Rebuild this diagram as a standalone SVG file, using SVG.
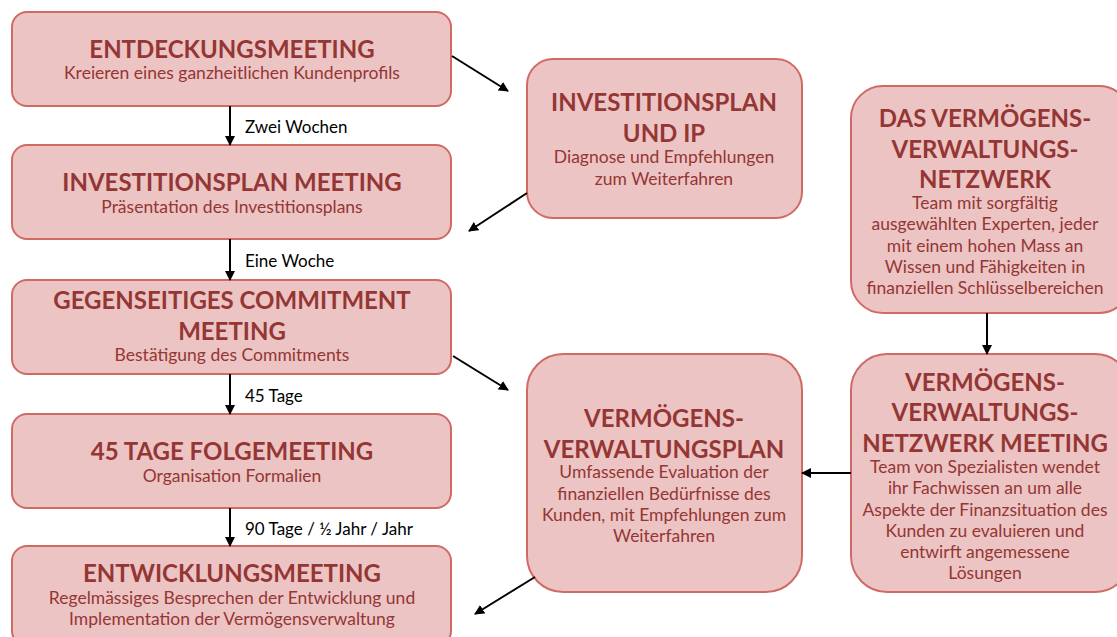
<svg xmlns="http://www.w3.org/2000/svg" width="1117" height="637" viewBox="0 0 1117 637">
<defs>
<marker id="ah" viewBox="0 0 10 10" refX="9" refY="5" markerWidth="10" markerHeight="10" markerUnits="userSpaceOnUse" orient="auto">
<path d="M0,0 L10,5 L0,10 z" fill="#000"/>
</marker>
<style>
.box{fill:#ECC4C4;stroke:#D06A64;stroke-width:2}
.t{font-family:Lato,"Liberation Sans",sans-serif;font-weight:bold;font-size:24px;fill:#943634;text-anchor:middle}
.s{font-family:Lato,"Liberation Sans",sans-serif;font-size:17.5px;fill:#943634;text-anchor:middle}
.l{font-family:Lato,"Liberation Sans",sans-serif;font-size:17px;fill:#000}
.c{stroke:#000;stroke-width:2;fill:none;marker-end:url(#ah)}
</style>
</defs>
<rect width="1117" height="637" fill="#fff"/>
<g id="entdeckung">
<rect class="box" x="12" y="12" width="439" height="94" rx="15"/>
<text class="t" x="232" y="58">ENTDECKUNGSMEETING</text>
<text class="s" x="232" y="79">Kreieren eines ganzheitlichen Kundenprofils</text>
</g>
<g id="investitionsplan-meeting">
<rect class="box" x="12" y="145" width="439" height="94" rx="15"/>
<text class="t" x="232" y="191">INVESTITIONSPLAN MEETING</text>
<text class="s" x="232" y="213">Präsentation des Investitionsplans</text>
</g>
<g id="commitment">
<rect class="box" x="12" y="280" width="439" height="94" rx="15"/>
<text class="t" x="232" y="309">GEGENSEITIGES COMMITMENT</text>
<text class="t" x="232" y="340">MEETING</text>
<text class="s" x="232" y="361">Bestätigung des Commitments</text>
</g>
<g id="folgemeeting">
<rect class="box" x="12" y="414" width="439" height="94" rx="15"/>
<text class="t" x="232" y="460">45 TAGE FOLGEMEETING</text>
<text class="s" x="232" y="482">Organisation Formalien</text>
</g>
<g id="entwicklung">
<rect class="box" x="12" y="546" width="439" height="100" rx="15"/>
<text class="t" x="232" y="582">ENTWICKLUNGSMEETING</text>
<text class="s" x="232" y="604">Regelmässiges Besprechen der Entwicklung und</text>
<text class="s" x="232" y="625">Implementation der Vermögensverwaltung</text>
</g>
<g id="ip">
<rect class="box" x="527" y="59" width="275" height="159" rx="26"/>
<text class="t" x="664" y="111">INVESTITIONSPLAN</text>
<text class="t" x="664" y="142">UND IP</text>
<text class="s" x="664" y="163">Diagnose und Empfehlungen</text>
<text class="s" x="664" y="185">zum Weiterfahren</text>
</g>
<g id="netzwerk">
<rect class="box" x="851" y="86" width="280" height="227" rx="32"/>
<text class="t" x="985" y="127">DAS VERMÖGENS-</text>
<text class="t" x="985" y="158">VERWALTUNGS-</text>
<text class="t" x="985" y="188">NETZWERK</text>
<text class="s" x="985" y="209">Team mit sorgfältig</text>
<text class="s" x="985" y="230">ausgewählten Experten, jeder</text>
<text class="s" x="985" y="252">mit einem hohen Mass an</text>
<text class="s" x="985" y="273">Wissen und Fähigkeiten in</text>
<text class="s" x="985" y="294">finanziellen Schlüsselbereichen</text>
</g>
<g id="plan">
<rect class="box" x="527" y="354" width="275" height="238" rx="36"/>
<text class="t" x="664" y="427">VERMÖGENS-</text>
<text class="t" x="664" y="458">VERWALTUNGSPLAN</text>
<text class="s" x="664" y="478">Umfassende Evaluation der</text>
<text class="s" x="664" y="500">finanziellen Bedürfnisse des</text>
<text class="s" x="664" y="521">Kunden, mit Empfehlungen zum</text>
<text class="s" x="664" y="542">Weiterfahren</text>
</g>
<g id="netzwerk-meeting">
<rect class="box" x="851" y="354" width="280" height="238" rx="36"/>
<text class="t" x="985" y="391">VERMÖGENS-</text>
<text class="t" x="985" y="421">VERWALTUNGS-</text>
<text class="t" x="985" y="452">NETZWERK MEETING</text>
<text class="s" x="985" y="473">Team von Spezialisten wendet</text>
<text class="s" x="985" y="494">ihr Fachwissen an um alle</text>
<text class="s" x="985" y="516">Aspekte der Finanzsituation des</text>
<text class="s" x="985" y="537">Kunden zu evaluieren und</text>
<text class="s" x="985" y="558">entwirft angemessene</text>
<text class="s" x="985" y="579">Lösungen</text>
</g>
<g id="connectors">
<line class="c" x1="230" y1="106" x2="230" y2="145"/>
<line class="c" x1="230" y1="239" x2="230" y2="280"/>
<line class="c" x1="230" y1="374" x2="230" y2="414"/>
<line class="c" x1="230" y1="508" x2="230" y2="546"/>
<line class="c" x1="452" y1="56" x2="508" y2="91"/>
<line class="c" x1="527" y1="193" x2="469" y2="231"/>
<line class="c" x1="453" y1="356" x2="508" y2="390"/>
<line class="c" x1="535" y1="577" x2="475" y2="614"/>
<line class="c" x1="987" y1="313" x2="987" y2="354"/>
<line class="c" x1="851" y1="473" x2="802" y2="473"/>
<text class="l" x="245" y="133">Zwei Wochen</text>
<text class="l" x="245" y="267">Eine Woche</text>
<text class="l" x="245" y="402">45 Tage</text>
<text class="l" x="245" y="535">90 Tage / ½ Jahr / Jahr</text>
</g>
</svg>
